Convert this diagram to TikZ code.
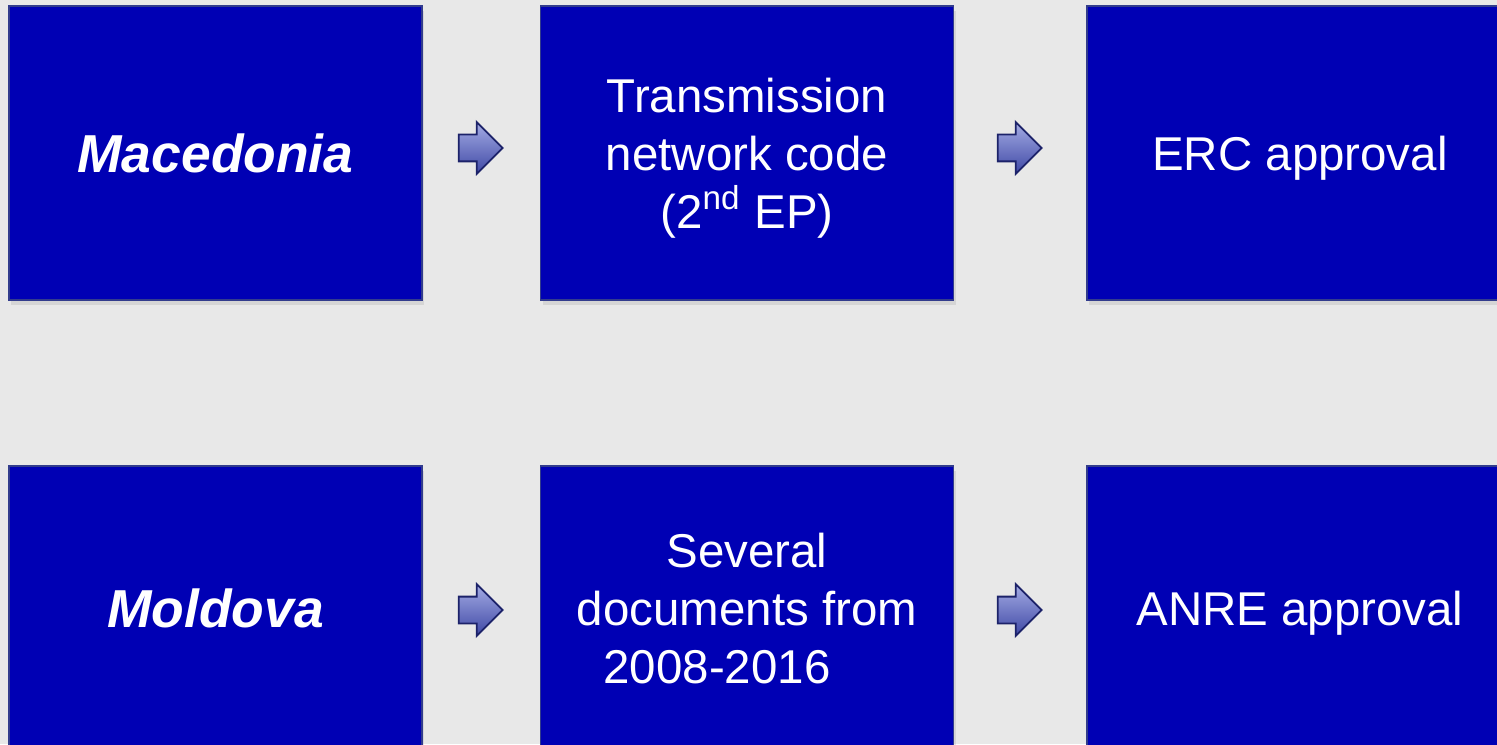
\documentclass[tikz,border=0pt]{standalone}
\usepackage{fontspec}
\setmainfont{Liberation Sans}
\usepackage{tikz}
\usetikzlibrary{shapes.arrows,shadows}

\definecolor{slidebg}{RGB}{232,232,232}
\definecolor{boxblue}{RGB}{0,0,180}
\definecolor{boxedge}{RGB}{50,60,140}
\definecolor{arrowtop}{RGB}{165,172,228}
\definecolor{arrowbot}{RGB}{62,72,165}
\definecolor{arrowedge}{RGB}{28,34,105}

\begin{document}
\begin{tikzpicture}[
    box/.style={rectangle, fill=boxblue, draw=boxedge, line width=0.4pt,
      minimum width=4.13cm, minimum height=2.94cm, text=white, align=center,
      text depth=0pt, font=\fontsize{13.5pt}{16.5pt}\selectfont,
      drop shadow={shadow xshift=0.02cm, shadow yshift=-0.05cm, opacity=0.18}},
    country/.style={box, font=\fontsize{15.2pt}{18pt}\selectfont\bfseries\itshape},
    wide/.style={minimum width=4.26cm},
    lower/.style={minimum height=2.84cm},
    fwdarrow/.style={single arrow, draw=arrowedge, line width=0.5pt,
      top color=arrowtop, bottom color=arrowbot, inner xsep=0pt, inner ysep=0.125cm,
      minimum height=0.44cm, single arrow head extend=0.125cm}
  ]
  \useasboundingbox (0, 0) rectangle (14.97, 7.44);
  \fill [slidebg] (0, 0) rectangle (14.97, 7.44);
  \clip (0, 0) rectangle (14.97, 7.44);

  % top row
  \node (mk) at (2.155, 5.91) [country] {Macedonia};
  \node (mkcode) at (7.47, 5.91) [box] {Transmission\\network code\\(2\textsuperscript{nd} EP)};
  \node (mkerc) at (13.0, 5.91) [box, wide] {ERC approval};
  \node (mkar1) at (4.74, 5.96) [fwdarrow] {};
  \node (mkar2) at (10.13, 5.96) [fwdarrow] {};

  % bottom row
  \node (md) at (2.155, 1.36) [country, lower] {Moldova};
  \node (mddocs) at (7.47, 1.36) [box, lower] {Several\\documents from\\2008-2016\hspace*{0.6cm}};
  \node (mdanre) at (13.0, 1.36) [box, wide, lower] {ANRE approval};
  \node (mdar1) at (4.74, 1.34) [fwdarrow] {};
  \node (mdar2) at (10.13, 1.34) [fwdarrow] {};
\end{tikzpicture}
\end{document}
